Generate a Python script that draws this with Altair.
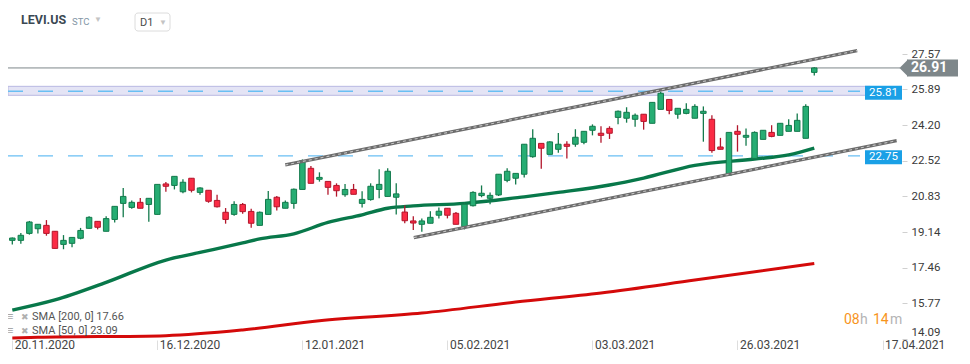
import altair as alt
import pandas as pd

# ---------------- data ----------------
opens = [18.75, 18.75, 19.08, 19.30, 19.46, 19.18, 18.56, 18.61, 18.85, 19.32,
         19.65, 19.18, 19.74, 20.50, 20.31, 20.55, 20.45, 19.98, 21.42, 21.35,
         21.05, 21.69, 21.02, 21.12, 20.64, 20.08, 19.98, 20.45, 20.12, 19.46,
         19.98, 20.79, 20.27, 20.50, 21.16, 22.16, 21.64, 21.54, 21.35, 20.91,
         21.16, 20.50, 20.68, 21.16, 20.83, 20.79, 20.09, 19.67, 19.51, 19.56,
         19.94, 20.27, 20.03, 19.40, 20.39, 20.87, 20.74, 20.90, 21.59, 21.69,
         21.88, 22.71, 23.34, 22.82, 23.06, 23.30, 23.30, 23.39, 23.96, 23.82,
         24.05, 24.57, 24.53, 24.48, 24.72, 24.29, 24.95, 25.42, 24.72, 24.76,
         24.53, 24.76, 24.48, 23.17, 21.84, 23.91, 23.63, 22.63, 23.53, 23.86,
         23.72, 23.91, 23.91, 23.58, 26.70]
highs = [18.88, 19.10, 19.67, 19.52, 19.71, 19.19, 19.00, 18.89, 19.34, 19.89,
         19.66, 19.89, 20.36, 21.23, 20.64, 20.75, 20.74, 21.40, 21.51, 21.78,
         21.64, 21.69, 21.26, 21.12, 20.91, 20.28, 20.60, 20.52, 20.25, 20.12,
         21.09, 20.85, 20.64, 21.21, 22.58, 22.27, 21.97, 21.54, 21.45, 21.42,
         21.42, 21.07, 21.45, 22.11, 22.16, 21.45, 20.40, 19.89, 19.79, 20.13,
         20.31, 20.27, 20.09, 20.55, 21.07, 21.35, 21.02, 21.88, 22.16, 21.92,
         23.30, 24.01, 23.34, 23.44, 23.83, 23.44, 24.01, 23.91, 24.24, 24.15,
         24.15, 24.90, 25.05, 24.76, 24.72, 25.28, 25.78, 25.42, 25.00, 25.24,
         25.19, 25.09, 24.67, 23.60, 23.86, 24.20, 24.05, 23.91, 23.96, 24.20,
         24.29, 24.48, 24.76, 25.19, 26.94]
lows = [18.56, 18.59, 19.02, 19.08, 18.97, 18.36, 18.33, 18.42, 18.80, 19.30,
        19.27, 19.18, 19.60, 19.84, 20.25, 20.27, 19.63, 19.98, 21.05, 21.16,
        20.98, 21.02, 20.91, 20.53, 20.30, 19.54, 19.92, 20.01, 19.35, 19.46,
        19.98, 20.16, 20.27, 20.25, 21.16, 21.45, 21.53, 20.91, 20.82, 20.82,
        20.93, 20.31, 20.63, 20.74, 20.83, 19.98, 19.56, 19.24, 19.16, 19.56,
        19.79, 19.79, 19.51, 19.27, 20.35, 20.79, 20.46, 20.85, 21.50, 21.40,
        21.73, 22.66, 22.14, 22.82, 22.90, 22.62, 23.18, 23.30, 23.72, 23.37,
        23.55, 24.24, 24.32, 24.13, 23.99, 24.29, 24.95, 24.72, 24.51, 24.72,
        24.53, 23.42, 22.90, 23.06, 21.84, 22.95, 23.23, 22.63, 23.53, 23.63,
        23.72, 23.91, 23.91, 23.58, 26.55]
closes = [18.86, 18.99, 19.62, 19.51, 19.08, 18.37, 18.75, 18.89, 19.22, 19.84,
          19.37, 19.78, 20.36, 20.83, 20.55, 20.27, 20.74, 21.40, 21.31, 21.78,
          21.50, 21.12, 21.23, 20.60, 20.34, 19.74, 20.45, 20.11, 19.56, 20.08,
          20.69, 20.34, 20.55, 21.17, 22.52, 21.45, 21.73, 21.26, 21.10, 21.16,
          20.93, 20.69, 21.31, 21.40, 22.02, 20.95, 19.68, 19.57, 19.67, 19.84,
          20.13, 19.94, 19.51, 20.46, 21.02, 20.98, 20.88, 21.88, 22.02, 21.92,
          23.30, 23.58, 23.11, 23.41, 23.30, 23.20, 23.63, 23.91, 24.15, 23.72,
          23.82, 24.86, 24.81, 24.67, 24.38, 25.28, 25.71, 24.90, 25.00, 24.95,
          25.09, 24.86, 23.00, 23.06, 23.86, 23.77, 23.72, 23.86, 23.96, 23.67,
          24.29, 24.19, 24.43, 25.09, 26.91]

tick_idx = [0, 17, 34, 51, 68, 85, 102]
tick_labels = ["20.11.2020", "16.12.2020", "12.01.2021", "05.02.2021",
               "03.03.2021", "26.03.2021", "17.04.2021"]
price_ticks = [27.57, 25.89, 24.20, 22.52, 20.83, 19.14, 17.46, 15.77, 14.09]

sma50_idx = [0, 5, 11, 18, 22, 27, 29, 33, 37, 41, 44, 47, 53, 60, 64, 70, 74, 80, 87, 91, 94]
sma50_val = [15.45, 15.93, 16.76, 17.82, 18.18, 18.63, 18.82, 19.06, 19.60, 19.96,
             20.27, 20.38, 20.50, 20.81, 21.02, 21.37, 21.70, 22.30, 22.60, 22.80, 23.12]
sma200_idx = [0, 3, 18, 27, 36, 48, 59, 69, 80, 94]
sma200_val = [14.13, 14.16, 14.24, 14.51, 14.95, 15.31, 15.83, 16.26, 16.87, 17.66]

upper_idx = [31.99, 99.03]
upper_val = [22.32, 27.73]
lower_idx = [47.06, 103.66]
lower_val = [18.88, 23.47]

last_price = 26.91
levels = [25.81, 22.75]
band = [25.615, 26.04]

# ---------------- scales / axes ----------------
XS = alt.Scale(domain=[0.081, 103.696], nice=False, zero=False)
YS = alt.Scale(domain=[14.035, 29.747], nice=False, zero=False)
FONT = "Roboto"

label_js = "[" + ",".join("'%s'" % s for s in tick_labels) + "]"
idx_js = "[" + ",".join(str(v) for v in tick_idx) + "]"

X_AXIS = alt.Axis(values=tick_idx, labelExpr=f"{label_js}[indexof({idx_js}, datum.value)]",
                  orient="bottom", grid=False, domain=False, ticks=True, tickSize=10,
                  tickColor="#dedede", labelAlign="left", labelBaseline="top",
                  labelPadding=-11, labelOffset=2, labelFontSize=12, labelColor="#444444",
                  labelFont=FONT, labelFlush=False, labelOverlap=False, title=None)
Y_AXIS = alt.Axis(values=price_ticks, labelExpr="format(datum.value, '.2f')", orient="right",
                  grid=False, domain=False, ticks=True, tickSize=5, tickColor="#d0d0d0",
                  labelPadding=4, labelFontSize=11.5, labelColor="#3a3a3a", labelFont=FONT,
                  labelBaseline="middle", labelFlush=False, labelOverlap=False, title=None,
                  labelOffset={"condition": {"test": "datum.value < 15", "value": -6}, "value": 0})


def X(f):
    return alt.X(f, type="quantitative", scale=XS, axis=X_AXIS, title=None)


def Y(f):
    return alt.Y(f, type="quantitative", scale=YS, axis=Y_AXIS, title=None)


n = len(opens)
df = pd.DataFrame({"i": list(range(n)), "o": opens, "h": highs, "l": lows, "c": closes})
df["blo"] = df[["o", "c"]].min(axis=1)
df["bhi"] = df[["o", "c"]].max(axis=1)
df["dir"] = ["up" if c >= o else "down" for o, c in zip(opens, closes)]

fill_scale = alt.Scale(domain=["up", "down"], range=["#26ad73", "#fb2b45"])
stroke_scale = alt.Scale(domain=["up", "down"], range=["#137a4c", "#b3172c"])

wicks = alt.Chart(df).mark_rule(strokeWidth=1.3).encode(
    x=X("i"), y=Y("l"), y2="h",
    color=alt.Color("dir:N", scale=stroke_scale, legend=None))
bodies = alt.Chart(df).mark_bar(size=5.5, strokeWidth=1).encode(
    x=X("i"), y=Y("blo"), y2="bhi",
    fill=alt.Fill("dir:N", scale=fill_scale, legend=None),
    stroke=alt.Stroke("dir:N", scale=stroke_scale, legend=None))

band_layer = alt.Chart(pd.DataFrame({"lo": [band[0]], "hi": [band[1]]})).mark_rect(
    fill="#e4e4f5", stroke="#b9b9e2", strokeWidth=1).encode(
    x=alt.value(0), x2=alt.value(862), y=Y("lo"), y2="hi")

lvl_df = pd.DataFrame({"p": levels, "t": ["%.2f" % v for v in levels]})
lvl_lines = alt.Chart(lvl_df).mark_rule(strokeDash=[15, 15], color="#69bff3", strokeWidth=1.4).encode(
    x=alt.value(0), x2=alt.value(852), y=Y("p"))
lvl_box = alt.Chart(lvl_df).mark_rule(strokeWidth=14, color="#1aa0e6", strokeCap="butt", yOffset=1.5).encode(
    x=alt.value(857), x2=alt.value(894), y=Y("p"))
lvl_txt = alt.Chart(lvl_df).mark_text(align="left", baseline="middle", color="white", fontSize=11.5,
                                      font=FONT, yOffset=1.5).encode(
    x=alt.value(861), y=Y("p"), text="t:N")

last_df = pd.DataFrame({"p": [last_price], "t": ["%.2f" % last_price]})
last_line = alt.Chart(last_df).mark_rule(color="#7e878a", strokeWidth=1).encode(
    x=alt.value(0), x2=alt.value(892), y=Y("p"))
last_box = alt.Chart(last_df).mark_rule(strokeWidth=17, color="#7e878a", strokeCap="butt").encode(
    x=alt.value(899), x2=alt.value(950), y=Y("p"))
last_arrow = alt.Chart(last_df).mark_point(shape="M0,-1L-1,0L0,1Z", size=289, filled=True,
                                           color="#7e878a", opacity=1).encode(
    x=alt.value(900), y=Y("p"))
last_txt = alt.Chart(last_df).mark_text(align="left", baseline="middle", color="white", fontSize=14,
                                        fontWeight="bold", font=FONT).encode(
    x=alt.value(903), y=Y("p"), text="t:N")

sma50 = alt.Chart(pd.DataFrame({"i": sma50_idx, "p": sma50_val})).mark_line(
    color="#08784a", strokeWidth=3.4, interpolate="monotone").encode(x=X("i"), y=Y("p"))
sma200 = alt.Chart(pd.DataFrame({"i": sma200_idx, "p": sma200_val})).mark_line(
    color="#d40a0a", strokeWidth=3, interpolate="monotone").encode(x=X("i"), y=Y("p"))


def channel(ix, vals):
    d = pd.DataFrame({"i": ix, "p": vals})
    a = alt.Chart(d).mark_line(color="#6c6c6c", strokeWidth=3.2).encode(x=X("i"), y=Y("p"))
    b = alt.Chart(d).mark_line(color="#c4c4c4", strokeWidth=1.1, strokeDash=[3, 3]).encode(x=X("i"), y=Y("p"))
    return [a, b]


def txt(s, x, y, size=11, color="#555555", weight="normal", align="left"):
    return alt.Chart(pd.DataFrame({"t": [s]})).mark_text(
        align=align, baseline="middle", fontSize=size, color=color, fontWeight=weight, font=FONT).encode(
        x=alt.value(x), y=alt.value(y), text="t:N")


d1_box = alt.Chart(pd.DataFrame({"t": ["D1"]})).mark_rect(
    fill="white", stroke="#dcdcdc", strokeWidth=1, cornerRadius=3).encode(
    x=alt.value(127), x2=alt.value(162), y=alt.value(5), y2=alt.value(23))

texts = [
    txt("LEVI.US", 13, 12, size=12.5, color="#3b4853", weight="bold"),
    txt("STC", 64, 14, size=9.5, color="#8396a6"),
    txt("▼", 86, 12, size=8, color="#c4c4c4"),
    txt("D1", 132, 14.5, size=11, color="#4a4a4a"),
    txt("▼", 151, 14.5, size=8, color="#c4c4c4"),
    txt("≡", -1, 309, size=11, color="#a8a8a8", weight="bold"),
    txt("✖", 13, 309, size=8.5, color="#b0b0b0"),
    txt("SMA [200,  0] 17.66", 24, 309, size=11, color="#555555"),
    txt("≡", -1, 323, size=11, color="#a8a8a8", weight="bold"),
    txt("✖", 13, 323, size=8.5, color="#b0b0b0"),
    txt("SMA [50,  0] 23.09", 24, 323, size=11, color="#555555"),
    txt("08", 836, 312, size=14, color="#f7941d"),
    txt("h", 852, 312, size=14, color="#b4b4b4"),
    txt("14", 865, 312, size=14, color="#f7941d"),
    txt("m", 882, 312, size=14, color="#b4b4b4"),
]

layers = [band_layer, lvl_lines, last_line, sma200, sma50, wicks, bodies] \
    + channel(upper_idx, upper_val) + channel(lower_idx, lower_val) \
    + [lvl_box, lvl_txt, last_box, last_arrow, last_txt, d1_box] + texts

chart = alt.layer(*layers).properties(
    width=894, height=332,
    padding={"left": 0, "top": 0, "right": 60, "bottom": 10},
    autosize=alt.AutoSizeParams(type="none"),
    background="white",
).configure_view(stroke=None)

chart.save("out.html", embed_options={"renderer": "svg", "actions": False})
